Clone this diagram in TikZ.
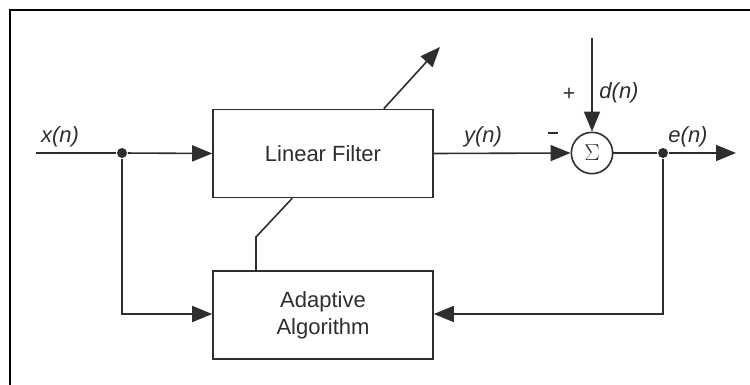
\documentclass[tikz,border=0pt]{standalone}
\usepackage{fontspec}
\setmainfont{Liberation Sans}
\usetikzlibrary{arrows.meta,calc}
\definecolor{ink}{gray}{0.18}
\begin{document}
\begin{tikzpicture}[x=0.75pt,y=-0.75pt,
  line width=1.2pt, draw=ink, text=ink,
  blk/.style={draw=ink, line width=1.2pt, minimum width=165pt, minimum height=66pt, inner sep=0pt, align=center, font=\fontsize{16.5}{20}\selectfont},
  sumc/.style={draw=ink, line width=1.2pt, circle, minimum size=31pt, inner sep=0pt},
  arr/.style={-{Triangle[length=15pt,width=12pt]}},
  lbl/.style={font=\fontsize{16.5}{19}\selectfont\itshape, inner sep=0pt},
  sgn/.style={font=\fontsize{16}{18}\selectfont, inner sep=0pt},
  dotc/.style={circle, fill=ink, inner sep=0pt, minimum size=7.5pt}]
\useasboundingbox (0,0) rectangle (750,385);
% frame
\draw[line width=1.3pt, black] (10,385) -- (10,10) -- (750,10);
% nodes
\node[blk] (lf) at (323,153.5) {Linear Filter};
\node[blk] (aa) at (323,315) {Adaptive\\Algorithm};
\node[sumc] (sum) at (592,153) {\fontsize{16}{16}\selectfont$\Sigma$};
\coordinate (xin) at (36,153);
\node[dotc] (j1) at (122,153) {};
\coordinate (j1b) at (122,314);
\coordinate (dtop) at (592,38);
\node[dotc] (j2) at (663,153) {};
\coordinate (j2b) at (663,314);
\coordinate (eout) at (736,153);
\coordinate (diagA) at ([xshift=-37.5pt]lf.north east);
\coordinate (diagB) at (440,47);
\coordinate (linkA) at ([xshift=60pt]lf.south west);
\coordinate (linkB) at (256,237);
% connectors
\draw (xin) -- (j1);
\draw[arr] (j1) -- (lf.west);
\draw[arr] (j1) -- (j1b) -- (j1b -| aa.west);
\draw[arr] (lf.east) -- (sum.west);
\draw[arr] (dtop) -- (sum.north);
\draw (sum.east) -- (j2);
\draw[arr] (j2) -- (eout);
\draw[arr] (j2) -- (j2b) -- (j2b -| aa.east);
\draw[arr] (diagA) -- (diagB);
\draw (linkA) -- (linkB) -- (linkB |- aa.north);
% labels
\node[lbl] (lx) at (60,137) {x(n)};
\node[lbl] (ly) at (483,137) {y(n)};
\node[lbl] (le) at (688,137) {e(n)};
\node[lbl] (ld) at (619,93) {d(n)};
\node[sgn] (lp) at (569,94) {+};
\node[sgn] (lm) at (553,133) {\rule{8pt}{0.8pt}};
\end{tikzpicture}
\end{document}
